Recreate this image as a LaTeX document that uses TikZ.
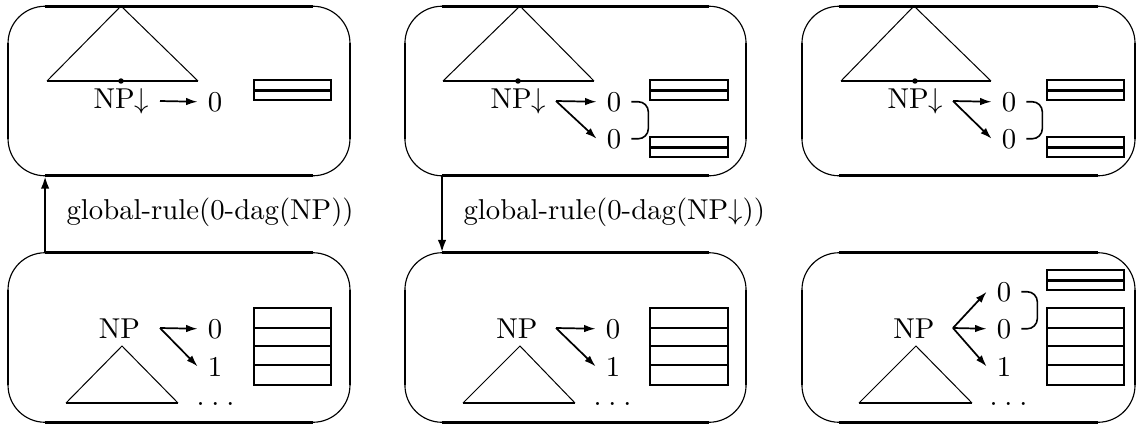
\documentclass[tikz,border=0pt]{standalone}
\usetikzlibrary{arrows.meta,calc}
\tikzset{
  panel/.style={draw, line width=0.4pt, rounded corners=12.9pt, inner sep=0pt, outer sep=0pt,
                minimum height=59pt},
  rim/.style={line width=0.9pt},
  leg/.style={line width=0.35pt},
  basel/.style={line width=0.7pt},
  ptr/.style={line width=0.6pt, -{Latex[length=4pt,width=2.6pt]}},
  link/.style={line width=0.9pt, -{Latex[length=4.5pt,width=3pt]}},
  outer/.style={line width=0.9pt},
  inner/.style={line width=0.6pt},
  midbar/.style={line width=0.8pt},
  brk/.style={line width=0.55pt, rounded corners=3.5pt},
  lbl/.style={inner sep=0pt, anchor=base west},
  cat/.style={inner sep=0pt, anchor=base},
  idx/.style={anchor=base},
}
% thick straight parts of a panel between its thin corner arcs
\newcommand\rimlines[1]{%
  \draw[rim] ([xshift=12.9pt]#1.north west) -- ([xshift=-12.9pt]#1.north east);
  \draw[rim] ([xshift=12.9pt]#1.south west) -- ([xshift=-12.9pt]#1.south east);
  \draw[rim] ([yshift=-12.9pt]#1.north west) -- ([yshift=12.9pt]#1.south west);
  \draw[rim] ([yshift=-12.9pt]#1.north east) -- ([yshift=12.9pt]#1.south east);}
% two-row table
\newcommand\duo[3]{% x-left, y-top, x-right
  \draw[outer] (#1,#2) rectangle (#3,#2+20);
  \draw[midbar] (#1,#2+10.5) -- (#3,#2+10.5);}
% four-row table
\newcommand\quadtab[3]{%
  \draw[outer] (#1,#2) rectangle (#3,#2+77);
  \draw[inner] (#1,#2+20) -- (#3,#2+20);
  \draw[inner] (#1,#2+38) -- (#3,#2+38);
  \draw[midbar] (#1,#2+57) -- (#3,#2+57);}
% tree with its root on top
\newcommand\treeup[4]{% apex x, apex y, base left, base right (base y = 403)
  \draw[leg] (#3,403) -- (#1,#2) -- (#4,403);
  \draw[basel] (#3,403) -- (#4,403);}
% tree with a foot node on its frontier
\newcommand\treefoot[4]{% apex x, base left, base right, foot x
  \draw[leg] (#2,81) -- (#1,6) -- (#3,81);
  \draw[basel] (#2,81) -- (#3,81);
  \fill (#4,81) circle[radius=0.95pt];}
% spaced ellipsis
\newcommand\dotrow{.\kern2.4pt.\kern2.4pt.}

\begin{document}
\begin{tikzpicture}[x=0.348pt, y=-0.348pt]
\useasboundingbox (0,0) rectangle (1137,426);

% panels
\node[panel, minimum width=119pt]   (A) at (179,91) {};
\node[panel, minimum width=118.7pt] (B) at (575.5,91) {};
\node[panel, minimum width=115.9pt] (C) at (968.5,91) {};
\node[panel, minimum width=119pt]   (D) at (179,337.5) {};
\node[panel, minimum width=118.7pt] (E) at (575.5,337.5) {};
\node[panel, minimum width=115.9pt] (F) at (968.5,337.5) {};
\rimlines{A}\rimlines{B}\rimlines{C}\rimlines{D}\rimlines{E}\rimlines{F}

% ---- upper row ----
\treefoot{121}{47}{198}{121}
\node[lbl] (fA) at (93,108) {NP$\downarrow$};
\coordinate (sA) at (160,101);
\node[idx] (zA) at (215,111) {0};
\draw[ptr] (sA) -- (zA.west);
\duo{254}{80}{331}

\treefoot{520}{443}{594}{518}
\node[lbl] (fB) at (490,108) {NP$\downarrow$};
\coordinate (sB) at (556,101);
\node[idx] (zB1) at (614,111) {0};
\node[idx] (zB2) at (614,148) {0};
\draw[ptr] (sB) -- (zB1.west);
\draw[ptr] (sB) -- (zB2.west);
\draw[brk] (zB1.east) -- ++(17,0) |- (zB2.east);
\duo{650}{80}{728}
\duo{650}{137}{728}

\treefoot{914}{841}{991}{915}
\node[lbl] (fC) at (887,108) {NP$\downarrow$};
\coordinate (sC) at (953,101);
\node[idx] (zC1) at (1009,111) {0};
\node[idx] (zC2) at (1009,148) {0};
\draw[ptr] (sC) -- (zC1.west);
\draw[ptr] (sC) -- (zC2.west);
\draw[brk] (zC1.east) -- ++(16,0) |- (zC2.east);
\duo{1047}{80}{1124}
\duo{1047}{137}{1124}

% ---- lower row ----
\node[cat] (nD) at (119.5,338) {NP};
\treeup{122}{346}{66}{178}
\coordinate (sD) at (160,328);
\node[idx] (zD0) at (215,338) {0};
\node[idx] (zD1) at (215,376) {1};
\draw[ptr] (sD) -- (zD0.west);
\draw[ptr] (sD) -- (zD1.west);
\node[lbl] (dD) at (196,405) {\dotrow};
\quadtab{254}{308}{331}

\node[cat] (nE) at (517,338) {NP};
\treeup{520}{346}{463}{575}
\coordinate (sE) at (556,328);
\node[idx] (zE0) at (613,338) {0};
\node[idx] (zE1) at (613,376) {1};
\draw[ptr] (sE) -- (zE0.west);
\draw[ptr] (sE) -- (zE1.west);
\node[lbl] (dE) at (593,405) {\dotrow};
\quadtab{650}{308}{728}

\node[cat] (nF) at (914,338) {NP};
\treeup{916}{346}{859}{972}
\coordinate (sF) at (953,328);
\node[idx] (zFa) at (1004,301) {0};
\node[idx] (zFb) at (1004,338) {0};
\node[idx] (zFc) at (1004,376) {1};
\draw[ptr] (sF) -- (zFa.west);
\draw[ptr] (sF) -- (zFb.west);
\draw[ptr] (sF) -- (zFc.west);
\draw[brk] (zFa.east) -- ++(16,0) |- (zFb.east);
\node[lbl] (dF) at (989,405) {\dotrow};
\duo{1047}{270}{1124}
\quadtab{1047}{308}{1124}

% ---- transitions ----
\draw[link] ([xshift=12.9pt]D.north west) -- ([xshift=12.9pt]A.south west);
\node[lbl] (gA) at (66,219) {global-rule(0-dag(NP))};
\draw[link] ([xshift=12.9pt]B.south west) -- ([xshift=12.9pt]E.north west);
\node[lbl] (gB) at (463,219) {global-rule(0-dag(NP$\downarrow$))};
\end{tikzpicture}
\end{document}
